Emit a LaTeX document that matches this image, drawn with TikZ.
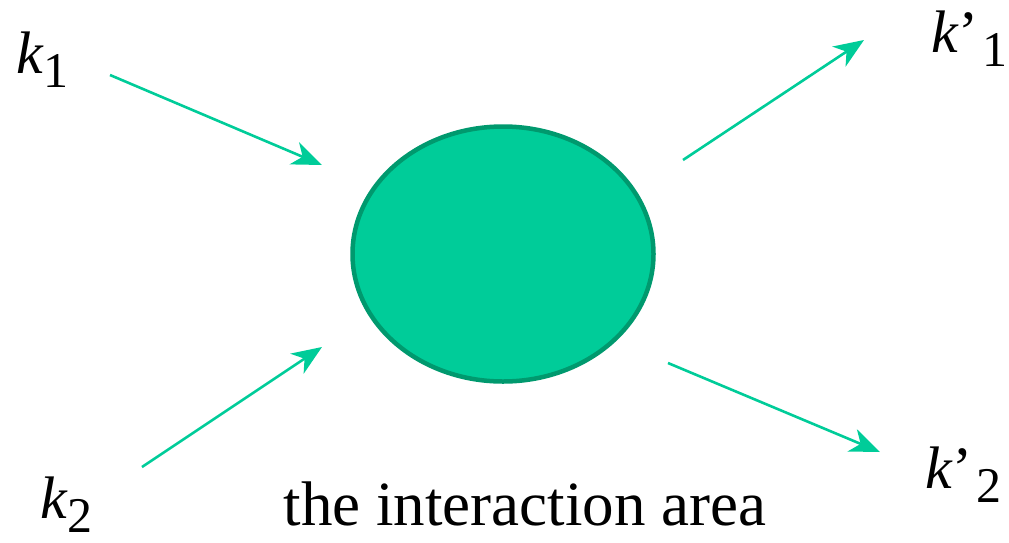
\documentclass[tikz,border=0pt]{standalone}
\usepackage{fontspec}
\setmainfont{Liberation Serif}
\usetikzlibrary{arrows.meta,shapes.geometric}

\definecolor{areagreen}{HTML}{00CC99}
\definecolor{rimgreen}{HTML}{00996E}

% lowered index digit beside the k
\newcommand{\kidx}[1]{\raisebox{-14pt}{\fontsize{50}{50}\selectfont #1}}

\begin{document}
\begin{tikzpicture}[
        x=1pt, y=-1pt,
        >={Stealth[length=30pt,width=24pt,inset=9pt]},
        momentum/.style={->, draw=areagreen, fill=areagreen, line width=2.6pt},
        klabel/.style={anchor=base west, inner sep=0pt, font=\fontsize{60}{60}\selectfont},
        blob/.style={ellipse, draw=rimgreen, fill=areagreen, line width=4.5pt,
          minimum width=301pt, minimum height=255pt, inner sep=0pt}
      ]
      \useasboundingbox (0,0) rectangle (1009,542);

      % the interaction area
      \node[blob] (area) at (503,254) {};
      \node[anchor=base, inner sep=0pt, font=\fontsize{63}{63}\selectfont]
        (caption) at (525,525) {the interaction area};

      % labels
      \node[klabel] (k1) at (16,73) {\textit{k}\kidx{1}};
      \node[klabel] (k2) at (40,518) {\textit{k}\kidx{2}};
      \node[klabel] (kp1) at (931,52) {\textit{k}’\kern4pt\kidx{1}};
      \node[klabel] (kp2) at (925,488) {\textit{k}’\kern4pt\kidx{2}};

      % incoming and outgoing lines
      \coordinate (in1s) at (110,75);
      \coordinate (in1e) at (322,165);
      \coordinate (in2s) at (142,467);
      \coordinate (in2e) at (322,347);
      \coordinate (out1s) at (683,160);
      \coordinate (out1e) at (864,40);
      \coordinate (out2s) at (668,363);
      \coordinate (out2e) at (880,452);

      \draw[momentum] (in1s) -- (in1e);
      \draw[momentum] (in2s) -- (in2e);
      \draw[momentum] (out1s) -- (out1e);
      \draw[momentum] (out2s) -- (out2e);
    \end{tikzpicture}
\end{document}
